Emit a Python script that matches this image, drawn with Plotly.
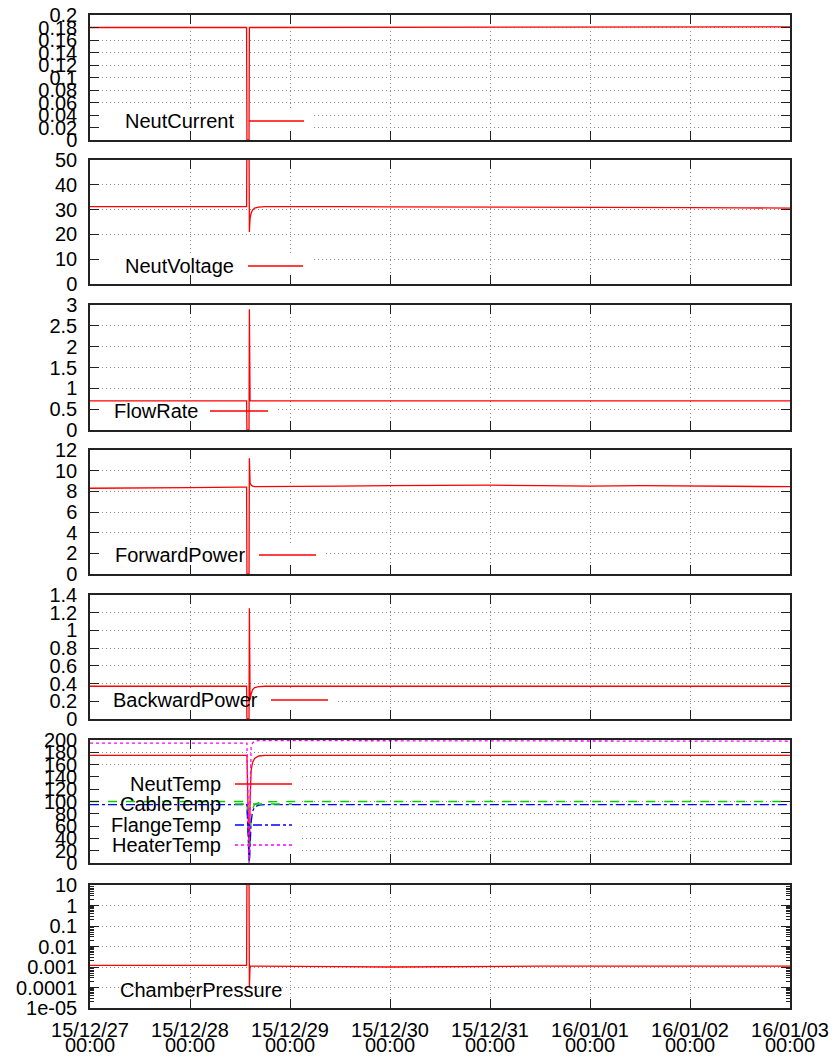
import datetime as dt
import plotly.graph_objects as go

# ---------------- data ----------------
times = [
    "2015-12-27 00:00", "2015-12-27 12:00", "2015-12-28 00:00", "2015-12-28 12:00",
    "2015-12-28 13:35", "2015-12-28 13:40", "2015-12-28 14:10", "2015-12-28 14:15",
    "2015-12-28 14:25", "2015-12-28 14:40", "2015-12-28 15:00", "2015-12-28 15:30",
    "2015-12-28 16:30", "2015-12-28 18:00", "2015-12-29 00:00", "2015-12-29 12:00",
    "2015-12-30 00:00", "2015-12-30 12:00", "2015-12-31 00:00", "2015-12-31 12:00",
    "2016-01-01 00:00", "2016-01-01 12:00", "2016-01-02 00:00", "2016-01-02 12:00",
    "2016-01-03 00:00",
]

neut_current = [0.180, 0.180, 0.180, 0.180, 0.180, 0.0, 0.0, 0.180,
                0.180, 0.180, 0.180, 0.180, 0.180, 0.180, 0.181, 0.181,
                0.181, 0.181, 0.181, 0.181, 0.181, 0.181, 0.181, 0.181, 0.181]
neut_voltage = [31.2, 31.1, 31.3, 31.2, 31.2, 60.0, 60.0, 21.0,
                26.5, 28.5, 29.8, 30.6, 31.0, 31.2, 31.3, 31.2,
                31.1, 31.0, 31.0, 30.9, 31.0, 30.9, 30.8, 30.7, 30.6]
flow_rate = [0.70, 0.70, 0.70, 0.70, 0.70, 0.0, 0.0, 2.90,
             0.70, 0.70, 0.70, 0.70, 0.70, 0.70, 0.70, 0.70,
             0.70, 0.70, 0.70, 0.70, 0.70, 0.70, 0.70, 0.70, 0.70]
forward_power = [8.30, 8.30, 8.35, 8.40, 8.40, 0.0, 0.0, 11.2,
                 8.80, 8.60, 8.50, 8.45, 8.45, 8.45, 8.50, 8.50,
                 8.55, 8.60, 8.60, 8.55, 8.50, 8.55, 8.50, 8.45, 8.45]
backward_power = [0.37, 0.37, 0.37, 0.37, 0.37, 0.0, 0.0, 1.25,
                  0.22, 0.28, 0.33, 0.355, 0.365, 0.37, 0.37, 0.37,
                  0.37, 0.37, 0.37, 0.37, 0.37, 0.37, 0.37, 0.37, 0.37]
neut_temp = [175, 175, 175, 175, 175, 175, 10, 3,
             100, 150, 163, 170, 174, 175, 175, 175,
             175, 175, 175, 175, 175, 175, 175, 175, 175]
cable_temp = [100, 100, 100, 100, 100, 100, 5, 3,
              30, 70, 88, 95, 98, 99.5, 100, 100,
              100, 100, 100, 100, 100, 100, 100, 100, 100]
flange_temp = [95, 95, 95, 95, 95, 95, 5, 3,
               28, 66, 84, 91, 94, 95, 95, 95,
               95, 95, 95, 95, 95, 95, 95, 95, 95]
heater_temp = [195, 195, 195, 195, 195, 195, 0, 30,
               150, 188, 195, 198, 199, 199, 198, 198,
               198, 198, 198, 198, 198, 198, 198, 198, 198]
chamber_pressure = [0.0012, 0.0012, 0.0012, 0.0012, 0.0012, 30.0, 30.0, 0.0001,
                    0.0011, 0.0011, 0.0011, 0.0011, 0.0011, 0.0011, 0.0011, 0.00105,
                    0.001, 0.00105, 0.0011, 0.0011, 0.0011, 0.0011, 0.0011, 0.0011, 0.0011]

x_tickvals = ["2015-12-27", "2015-12-28", "2015-12-29", "2015-12-30",
              "2015-12-31", "2016-01-01", "2016-01-02", "2016-01-03"]
x_date_text = ["15/12/27", "15/12/28", "15/12/29", "15/12/30",
               "15/12/31", "16/01/01", "16/01/02", "16/01/03"]
x_time_text = ["00:00", "00:00", "00:00", "00:00", "00:00", "00:00", "00:00", "00:00"]

y1_ticks = [0, 0.02, 0.04, 0.06, 0.08, 0.1, 0.12, 0.14, 0.16, 0.18, 0.2]
y1_text = ["0", "0.02", "0.04", "0.06", "0.08", "0.1", "0.12", "0.14", "0.16", "0.18", "0.2"]
y2_ticks = [0, 10, 20, 30, 40, 50]
y3_ticks = [0, 0.5, 1, 1.5, 2, 2.5, 3]
y3_text = ["0", "0.5", "1", "1.5", "2", "2.5", "3"]
y4_ticks = [0, 2, 4, 6, 8, 10, 12]
y5_ticks = [0, 0.2, 0.4, 0.6, 0.8, 1, 1.2, 1.4]
y5_text = ["0", "0.2", "0.4", "0.6", "0.8", "1", "1.2", "1.4"]
y6_ticks = [0, 20, 40, 60, 80, 100, 120, 140, 160, 180, 200]
y7_ticks = [1e-05, 0.0001, 0.001, 0.01, 0.1, 1, 10]
y7_text = ["1e-05", "0.0001", "0.001", "0.01", "0.1", "1", "10"]

y_ranges = [(0, 0.2), (0, 50), (0, 3), (0, 12), (0, 1.4), (0, 200), (-5, 1)]

# ---------------- layout geometry ----------------
# The page body has an 8px margin, so the figure is drawn 8px smaller and the
# plot area still lands on the reference pixels (x 90..790, y 15..1008).
OFF = 8
W, H = 839 - OFF, 1059 - OFF
L, R, T, B = 90, 790, 15, 1008          # page pixel coordinates of plot area
panel_top = [15, 160, 305, 450, 595, 740, 885]
panel_bot = [140, 284, 430, 574, 719, 863, 1008]

FONT = "Liberation Sans, Arial, Helvetica, sans-serif"
RED, GREEN, BLUE, MAGENTA = "#ff0000", "#00d000", "#0000ff", "#ff00ff"
GRIDDASH = "1px,3px"

fig = go.Figure()

series = [
    (1, "NeutCurrent", neut_current, RED, "solid"),
    (2, "NeutVoltage", neut_voltage, RED, "solid"),
    (3, "FlowRate", flow_rate, RED, "solid"),
    (4, "ForwardPower", forward_power, RED, "solid"),
    (5, "BackwardPower", backward_power, RED, "solid"),
    (6, "NeutTemp", neut_temp, RED, "solid"),
    (6, "CableTemp", cable_temp, GREEN, "dash"),
    (6, "FlangeTemp", flange_temp, BLUE, "dashdot"),
    (6, "HeaterTemp", heater_temp, MAGENTA, "dot"),
    (7, "ChamberPressure", chamber_pressure, RED, "solid"),
]
for p, name, vals, col, dash in series:
    sfx = "" if p == 1 else str(p)
    fig.add_trace(go.Scatter(x=times, y=vals, mode="lines", name=name,
                             line=dict(color=col, width=1.3, dash=dash),
                             xaxis="x" + sfx, yaxis="y" + sfx, showlegend=False))

# empty helper trace so the second tick-label row (times) is drawn
fig.add_trace(go.Scatter(x=x_tickvals, y=[None] * len(x_tickvals), mode="lines",
                         xaxis="x8", yaxis="y7", showlegend=False, hoverinfo="skip"))

yspecs = [
    dict(range=list(y_ranges[0]), tickvals=y1_ticks, ticktext=y1_text),
    dict(range=list(y_ranges[1]), tickvals=y2_ticks),
    dict(range=list(y_ranges[2]), tickvals=y3_ticks, ticktext=y3_text),
    dict(range=list(y_ranges[3]), tickvals=y4_ticks),
    dict(range=list(y_ranges[4]), tickvals=y5_ticks, ticktext=y5_text),
    dict(range=list(y_ranges[5]), tickvals=y6_ticks),
    dict(type="log", range=list(y_ranges[6]), tickvals=y7_ticks, ticktext=y7_text,
         minor=dict(ticks="inside", ticklen=4, dtick="D1", showgrid=False,
                    tickcolor="#222")),
]

axis_common = dict(showline=True, linecolor="#222", linewidth=1.5, mirror="ticks",
                   ticks="inside", ticklen=9, tickwidth=1.2, tickcolor="#222",
                   showgrid=True, gridcolor="#8c8c8c", griddash=GRIDDASH, gridwidth=1,
                   zeroline=False, automargin=False, ticklabeloverflow="allow",
                   tickfont=dict(family=FONT, size=20, color="#000"))

layout = {}
for i in range(7):
    sfx = "" if i == 0 else str(i + 1)
    d0 = (B - panel_bot[i]) / (B - T)
    d1 = (B - panel_top[i]) / (B - T)
    xa = dict(axis_common)
    xa.update(type="date", range=["2015-12-27", "2016-01-03"], tickvals=x_tickvals,
              ticktext=x_date_text, showticklabels=(i == 6), anchor="y" + sfx,
              domain=[0, 1], ticklabelstandoff=3)
    ya = dict(axis_common)
    ya.update(yspecs[i])
    ya.update(anchor="x" + sfx, domain=[d0, d1], ticklabelstandoff=7)
    layout["xaxis" + sfx] = xa
    layout["yaxis" + sfx] = ya

layout["xaxis8"] = dict(type="date", range=["2015-12-27", "2016-01-03"], overlaying="x7",
                        anchor="y7", side="bottom", tickvals=x_tickvals, ticktext=x_time_text,
                        showgrid=False, showline=False, ticks="", zeroline=False,
                        automargin=False, ticklabelstandoff=23, ticklabeloverflow="allow",
                        tickfont=dict(family=FONT, size=20, color="#000"))

fig.update_layout(**layout)

# ---------------- keys (gnuplot style) ----------------
keys = [
    # panel, label, text right px, y px, sample x0, x1, color, dash
    (1, "NeutCurrent", 235, 121, 249, 304, RED, "solid"),
    (2, "NeutVoltage", 235, 266, 248, 303, RED, "solid"),
    (3, "FlowRate", 199, 411, 210, 268, RED, "solid"),
    (4, "ForwardPower", 246, 555, 259, 316, RED, "solid"),
    (5, "BackwardPower", 259, 700, 271, 328, RED, "solid"),
    (6, "NeutTemp", 222, 784, 235, 292, RED, "solid"),
    (6, "CableTemp", 222, 804, 235, 292, GREEN, "dash"),
    (6, "FlangeTemp", 222, 825, 235, 292, BLUE, "dashdot"),
    (6, "HeaterTemp", 222, 845, 235, 292, MAGENTA, "dot"),
    (7, "ChamberPressure", 283, 990, 295, 352, RED, "solid"),
]
key_boxes = [(1, 313, 110), (2, 313, 255), (3, 278, 399), (4, 326, 543),
             (5, 338, 688), (6, 302, 771), (7, 362, 976)]

T0 = dt.datetime(2015, 12, 27)


def xdata(px):
    return (T0 + dt.timedelta(days=(px - L) / 100.0)).strftime("%Y-%m-%d %H:%M:%S")


def ydata(p, py):
    lo, hi = y_ranges[p - 1]
    frac = (panel_bot[p - 1] - py) / (panel_bot[p - 1] - panel_top[p - 1])
    return lo + frac * (hi - lo)


def xd(px):
    return (px - L) / (R - L)


def yd(p, py):
    return (panel_bot[p - 1] - py) / (panel_bot[p - 1] - panel_top[p - 1])


shapes = []
annotations = []
for p, right, top in key_boxes:
    sfx = "" if p == 1 else str(p)
    shapes.append(dict(type="rect", xref="x" + sfx, yref="y" + sfx,
                       x0=xdata(90.8), x1=xdata(right),
                       y0=ydata(p, panel_bot[p - 1] - 0.8), y1=ydata(p, top),
                       fillcolor="white", line=dict(width=0), layer="between"))
for p, label, tr, ty, sx0, sx1, col, dash in keys:
    sfx = "" if p == 1 else str(p)
    annotations.append(dict(text=label, xref="x%s domain" % sfx, yref="y%s domain" % sfx,
                            x=xd(tr), y=yd(p, ty), xanchor="right", yanchor="middle",
                            showarrow=False, borderpad=0,
                            font=dict(family=FONT, size=20, color="#000")))
    shapes.append(dict(type="line", xref="x" + sfx, yref="y" + sfx,
                       x0=xdata(sx0), x1=xdata(sx1), y0=ydata(p, ty), y1=ydata(p, ty),
                       line=dict(color=col, width=1.3, dash=dash)))

fig.update_layout(
    shapes=shapes, annotations=annotations,
    width=W, height=H, autosize=False,
    margin=dict(l=L - OFF, r=839 - R, t=T - OFF, b=1059 - B, pad=0),
    paper_bgcolor="white", plot_bgcolor="white",
    font=dict(family=FONT, size=20, color="#000"),
    showlegend=False,
)

fig.write_html("out.html")
